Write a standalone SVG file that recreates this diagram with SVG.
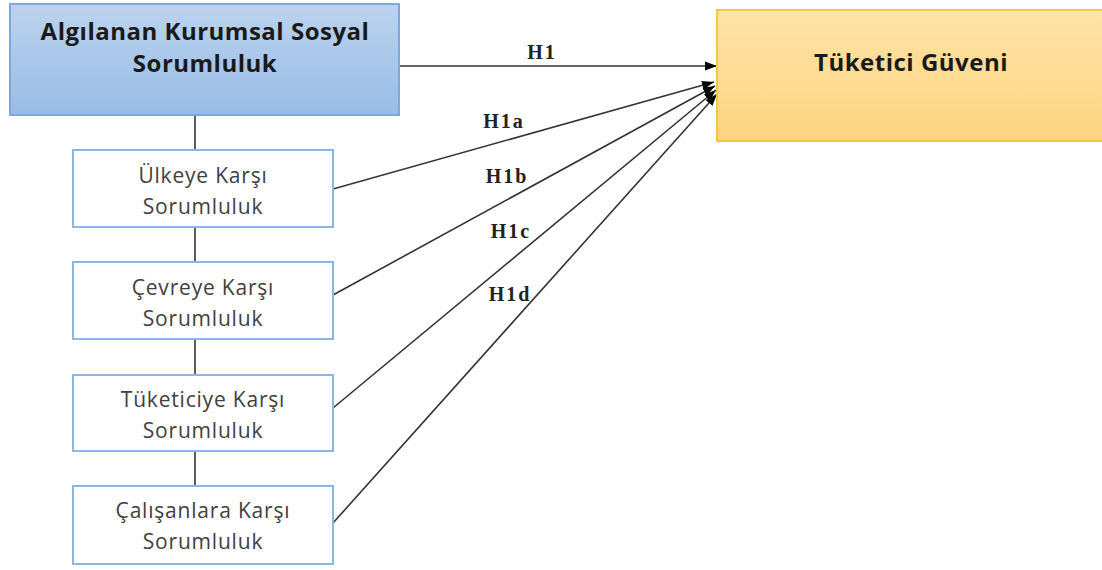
<svg xmlns="http://www.w3.org/2000/svg" width="1102" height="570" viewBox="0 0 1102 570">
<defs>
<linearGradient id="gBlue" x1="0" y1="0" x2="0" y2="1">
<stop offset="0" stop-color="#bcd3ee"/>
<stop offset="1" stop-color="#98bce6"/>
</linearGradient>
<linearGradient id="gOrange" x1="0" y1="0" x2="0" y2="1">
<stop offset="0" stop-color="#fee3a6"/>
<stop offset="1" stop-color="#fdd480"/>
</linearGradient>
<marker id="arr" viewBox="0 0 12 10" refX="12" refY="5" markerWidth="12" markerHeight="10" markerUnits="userSpaceOnUse" orient="auto">
<path d="M0,0.5 L12,5 L0,9.5 Z" fill="#000"/>
</marker>
<style>
.sub rect{fill:#fff;stroke:#8db7e3;stroke-width:2}
.sub text{font-family:"Open Sans","Liberation Sans",sans-serif;font-size:21px;fill:#404040;text-anchor:middle;letter-spacing:0.8px}
.title{font-family:"Open Sans","Liberation Sans",sans-serif;font-size:24px;font-weight:bold;fill:#1a1a1a;text-anchor:middle;letter-spacing:0.5px}
.conn line{stroke:#333;stroke-width:1.6}
.lbl{font-family:"Liberation Serif",serif;font-size:20px;font-weight:bold;fill:#222;text-anchor:middle;letter-spacing:2px}
</style>
</defs>
<g id="connectors" class="conn">
<line x1="195" y1="115" x2="195" y2="150"/>
<line x1="195" y1="227" x2="195" y2="262"/>
<line x1="195" y1="339" x2="195" y2="375"/>
<line x1="195" y1="451" x2="195" y2="486"/>
<line x1="399" y1="66" x2="717" y2="66" marker-end="url(#arr)"/>
<line x1="333" y1="189" x2="714" y2="82" marker-end="url(#arr)"/>
<line x1="333" y1="295" x2="715" y2="86" marker-end="url(#arr)"/>
<line x1="333" y1="408" x2="716" y2="90" marker-end="url(#arr)"/>
<line x1="333" y1="523" x2="717" y2="94" marker-end="url(#arr)"/>
<text class="lbl" x="542" y="59">H1</text>
<text class="lbl" x="504" y="128">H1a</text>
<text class="lbl" x="507" y="183">H1b</text>
<text class="lbl" x="511" y="238">H1c</text>
<text class="lbl" x="510" y="301">H1d</text>
</g>
<g id="node-aks">
<rect x="10" y="4" width="389" height="111" fill="url(#gBlue)" stroke="#7ea8da" stroke-width="2"/>
<text class="title" x="205" y="40">Algılanan Kurumsal Sosyal</text>
<text class="title" x="205" y="72">Sorumluluk</text>
</g>
<g id="node-tg">
<rect x="717" y="10" width="390" height="131" fill="url(#gOrange)" stroke="#f6c546" stroke-width="2"/>
<text class="title" x="911" y="71" font-size="22">Tüketici Güveni</text>
</g>
<g id="node-ulke" class="sub">
<rect x="73" y="150" width="260" height="77"/>
<text x="203" y="183">Ülkeye Karşı</text>
<text x="203" y="214">Sorumluluk</text>
</g>
<g id="node-cevre" class="sub">
<rect x="73" y="262" width="260" height="77"/>
<text x="203" y="295">Çevreye Karşı</text>
<text x="203" y="326">Sorumluluk</text>
</g>
<g id="node-tuketici" class="sub">
<rect x="73" y="375" width="260" height="76"/>
<text x="203" y="407">Tüketiciye Karşı</text>
<text x="203" y="438">Sorumluluk</text>
</g>
<g id="node-calisan" class="sub">
<rect x="73" y="486" width="260" height="78"/>
<text x="203" y="518">Çalışanlara Karşı</text>
<text x="203" y="549">Sorumluluk</text>
</g>
</svg>
